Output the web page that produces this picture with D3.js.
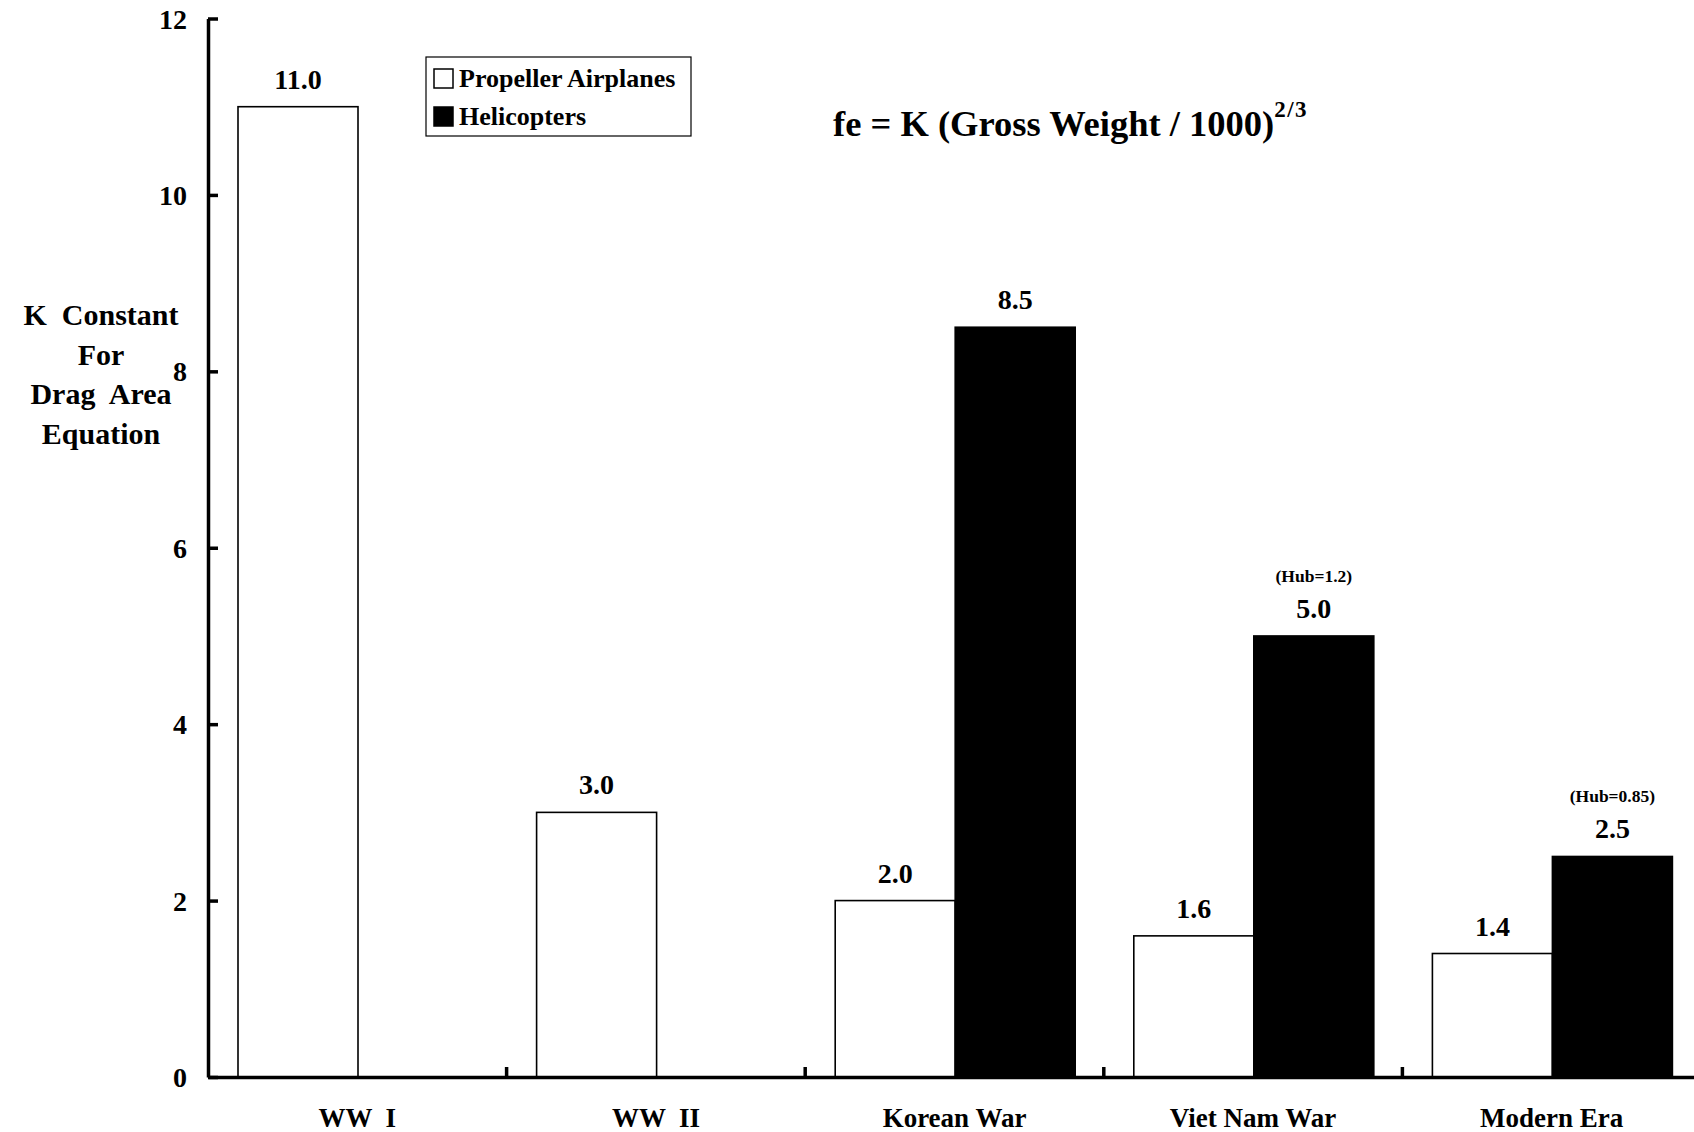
<!DOCTYPE html>
<html>
<head>
<meta charset="utf-8">
<script src="https://cdn.jsdelivr.net/npm/d3@7"></script>
<style>
  html, body { margin: 0; padding: 0; background: #fff; }
  svg { display: block; }
  text { font-family: "Liberation Serif", "Times New Roman", serif; font-weight: bold; fill: #000; white-space: pre; }
</style>
</head>
<body>
<svg id="chart" width="1694" height="1132"></svg>
<script>
// ---- data ----
const categories = ["WW  I", "WW  II", "Korean War", "Viet Nam War", "Modern Era"];
const seriesNames = ["Propeller Airplanes", "Helicopters"];
const propellerValues = [11.0, 3.0, 2.0, 1.6, 1.4];
const helicopterValues = [null, null, 8.5, 5.0, 2.5];
const hubNotes = [null, null, null, "(Hub=1.2)", "(Hub=0.85)"];
const yTicks = [0, 2, 4, 6, 8, 10, 12];
const yLabelLines = ["K  Constant", "For", "Drag  Area", "Equation"];

// ---- layout ----
const svg = d3.select("#chart");
const x0 = d3.scaleBand().domain(categories).range([208, 1701]).padding(0);
const x1 = d3.scaleBand().domain(seriesNames).range([30, 270]).padding(0);
const y = d3.scaleLinear().domain([0, 12]).range([1077, 18.5]);
const fills = { "Propeller Airplanes": "#ffffff", "Helicopters": "#000000" };

const rows = [];
categories.forEach((c, i) => {
  rows.push({ cat: c, s: seriesNames[0], v: propellerValues[i], note: null });
  if (helicopterValues[i] != null)
    rows.push({ cat: c, s: seriesNames[1], v: helicopterValues[i], note: hubNotes[i] });
});

// bars
svg.append("g").selectAll("rect").data(rows).join("rect")
  .attr("x", d => x0(d.cat) + x1(d.s))
  .attr("y", d => y(d.v))
  .attr("width", x1.bandwidth())
  .attr("height", d => y(0) - y(d.v))
  .attr("fill", d => fills[d.s])
  .attr("stroke", "#000")
  .attr("stroke-width", 1.6);

// value labels
svg.append("g").selectAll("text").data(rows).join("text")
  .attr("x", d => x0(d.cat) + x1(d.s) + x1.bandwidth() / 2)
  .attr("y", d => y(d.v) - 18)
  .attr("text-anchor", "middle")
  .attr("font-size", 28)
  .text(d => d.v.toFixed(1));

// hub notes
svg.append("g").selectAll("text").data(rows.filter(d => d.note)).join("text")
  .attr("x", d => x0(d.cat) + x1(d.s) + x1.bandwidth() / 2)
  .attr("y", d => y(d.v) - 54)
  .attr("text-anchor", "middle")
  .attr("font-size", 17.5)
  .text(d => d.note);

// y axis
const yAxis = d3.axisLeft(y).tickValues(yTicks).tickFormat(d3.format("d"))
  .tickSizeInner(-10).tickSizeOuter(0).tickPadding(21);
const gy = svg.append("g").attr("transform", "translate(208,0)").call(yAxis);
gy.select(".domain").attr("stroke", "#000").attr("stroke-width", 3.5);
gy.selectAll(".tick line").attr("stroke", "#000").attr("stroke-width", 3.5);
gy.selectAll(".tick text").attr("font-size", 28).attr("font-family", null).attr("dy", "0.34em");

// x axis
const xAxis = d3.axisBottom(x0).tickSize(0).tickPadding(31);
const gx = svg.append("g").attr("transform", `translate(0,${y(0)})`).call(xAxis);
gx.select(".domain").attr("stroke", "#000").attr("stroke-width", 3.5);
gx.selectAll(".tick text").attr("font-size", 27).attr("font-family", null);
// boundary ticks between categories
svg.append("g").selectAll("line").data(categories.slice(1)).join("line")
  .attr("x1", d => x0(d)).attr("x2", d => x0(d))
  .attr("y1", y(0)).attr("y2", y(0) - 10)
  .attr("stroke", "#000").attr("stroke-width", 3.5);

// y axis label
svg.append("g").selectAll("text").data(yLabelLines).join("text")
  .attr("x", 101)
  .attr("y", (d, i) => 325 + i * 39.5)
  .attr("text-anchor", "middle")
  .attr("font-size", 30)
  .text(d => d);

// legend
const lg = svg.append("g");
lg.append("rect").attr("x", 426).attr("y", 57).attr("width", 265).attr("height", 79)
  .attr("fill", "#fff").attr("stroke", "#000").attr("stroke-width", 1.2);
seriesNames.forEach((s, i) => {
  lg.append("rect").attr("x", 434).attr("y", 69 + i * 38).attr("width", 19).attr("height", 19)
    .attr("fill", fills[s]).attr("stroke", "#000").attr("stroke-width", 1.5);
  lg.append("text").attr("x", 459).attr("y", 87 + i * 38).attr("font-size", 26).text(s);
});

// formula
const t = svg.append("text").attr("x", 833).attr("y", 136).attr("font-size", 36.5);
t.append("tspan").text("fe = K (Gross Weight / 1000)");
t.append("tspan").attr("dy", -19).attr("font-size", 23).attr("letter-spacing", 1.5).text("2/3");
</script>
</body>
</html>
